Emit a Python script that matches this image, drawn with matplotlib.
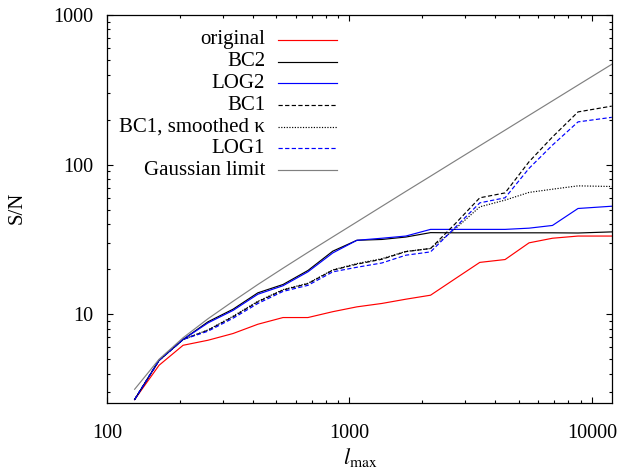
import matplotlib
matplotlib.use("Agg")
import matplotlib.pyplot as plt
from matplotlib.lines import Line2D
from matplotlib.ticker import FixedLocator, FixedFormatter, LogLocator, NullFormatter

plt.rcParams['font.family'] = ['Liberation Serif', 'DejaVu Serif']
plt.rcParams['mathtext.fontset'] = 'stix'

# ---- data ----
lmax = [130, 164, 206, 261, 331, 419, 532, 674, 854, 1073, 1360, 1708,
        2160, 2720, 3447, 4384, 5504, 6875, 8763, 12070]

original = [2.69, 4.56, 6.2, 6.7, 7.43, 8.57, 9.5, 9.5, 10.4, 11.2, 11.8, 12.6,
            13.4, 17.2, 22.2, 23.2, 30.0, 32.2, 33.3, 33.3]
bc2 = [2.69, 4.92, 6.78, 8.9, 10.8, 13.9, 15.8, 19.6, 26.4, 31.2, 31.6, 32.8,
       35.1, 35.0, 35.0, 35.0, 35.0, 35.0, 34.9, 35.5]
log2 = [2.69, 4.92, 6.78, 8.75, 10.6, 13.6, 15.5, 19.2, 25.7, 31.2, 32.2, 33.3,
        36.9, 36.9, 36.9, 36.9, 37.6, 39.2, 50.9, 52.7]
bc1 = [2.69, 4.92, 6.78, 7.82, 9.6, 12.1, 14.5, 16.0, 19.7, 21.6, 23.3, 26.2,
       27.5, 40.0, 60.0, 64.7, 104.5, 153, 225, 246]
bc1_smooth = [2.69, 4.92, 6.78, 7.85, 9.7, 12.2, 14.6, 16.1, 19.8, 21.8, 23.5, 26.3,
              27.5, 37.0, 52.2, 57.9, 65.2, 68.5, 72.1, 71.4]
log1 = [2.69, 4.92, 6.78, 7.7, 9.4, 11.8, 14.2, 15.6, 19.2, 20.6, 22.0, 24.8,
        26.1, 37.8, 55.5, 60.0, 94.4, 135, 193, 207]
gaussian = [3.15, 5.0, 6.96, 9.33, 12.2, 15.8, 20.3, 25.9, 32.9, 41.4, 52.6, 66.2,
            83.7, 105.5, 133.7, 170, 213.5, 266.7, 340, 468]

labels = ["original", "BC2", "LOG2", "BC1", "BC1, smoothed \u03ba", "LOG1", "Gaussian limit"]
xticks = [100, 1000, 10000]
xticklabels = ["100", "1000", "10000"]
yticks = [10, 100, 1000]
yticklabels = ["10", "100", "1000"]

fig = plt.figure(figsize=(6.25, 4.70), dpi=100)
ax = fig.add_axes([107/625, 1-403/470, 505/625, 388/470])

lw = 0.85
styles = [
    dict(color='#ff0000', lw=lw, ls='-'),
    dict(color='#000000', lw=lw, ls='-'),
    dict(color='#0000ff', lw=lw, ls='-'),
    dict(color='#000000', lw=lw, ls=(0, (3.6, 2.0))),
    dict(color='#000000', lw=lw, ls=(0, (1.0, 1.3))),
    dict(color='#0000ff', lw=lw, ls=(0, (3.6, 2.0))),
    dict(color='#808080', lw=lw, ls='-'),
]
series = [original, bc2, log2, bc1, bc1_smooth, log1, gaussian]
for s, st in zip(series, styles):
    ax.plot(lmax, s, **st)

ax.set_xscale('log')
ax.set_yscale('log')
ax.set_xlim(100, 12100)
ax.set_ylim(2.55, 1000)

ax.xaxis.set_major_locator(FixedLocator(xticks))
ax.xaxis.set_major_formatter(FixedFormatter(xticklabels))
ax.yaxis.set_major_locator(FixedLocator(yticks))
ax.yaxis.set_major_formatter(FixedFormatter(yticklabels))
ax.xaxis.set_minor_locator(LogLocator(base=10, subs=range(2, 10)))
ax.yaxis.set_minor_locator(LogLocator(base=10, subs=range(2, 10)))
ax.xaxis.set_minor_formatter(NullFormatter())
ax.yaxis.set_minor_formatter(NullFormatter())

ax.tick_params(which='both', direction='in', top=True, right=True, width=0.8, colors='black')
ax.tick_params(which='major', length=4.5, labelsize=14.5)
ax.tick_params(which='minor', length=2.3)
ax.tick_params(axis='x', which='major', pad=15)
ax.tick_params(axis='y', which='major', pad=10)
for sp in ax.spines.values():
    sp.set_linewidth(0.9)

ax.set_xlabel(r"$l_{\rm max}$", fontsize=16)
ax.xaxis.set_label_coords(0.501, -0.112)
ax.set_ylabel("S/N", fontsize=15, va='center')
ax.yaxis.set_label_coords(-0.177, 0.504)

# gnuplot-style key: right-aligned labels followed by line samples
row_y = [0.9356, 0.8796, 0.8240, 0.7680, 0.7122, 0.6564, 0.6005]
for lab, st, yy in zip(labels, styles, row_y):
    ax.text(0.3129, yy, lab, transform=ax.transAxes, ha='right', va='center', fontsize=15)
    ax.add_line(Line2D([0.3386, 0.4554], [yy, yy], transform=ax.transAxes, **st))

fig.savefig("out.png", dpi=100)
